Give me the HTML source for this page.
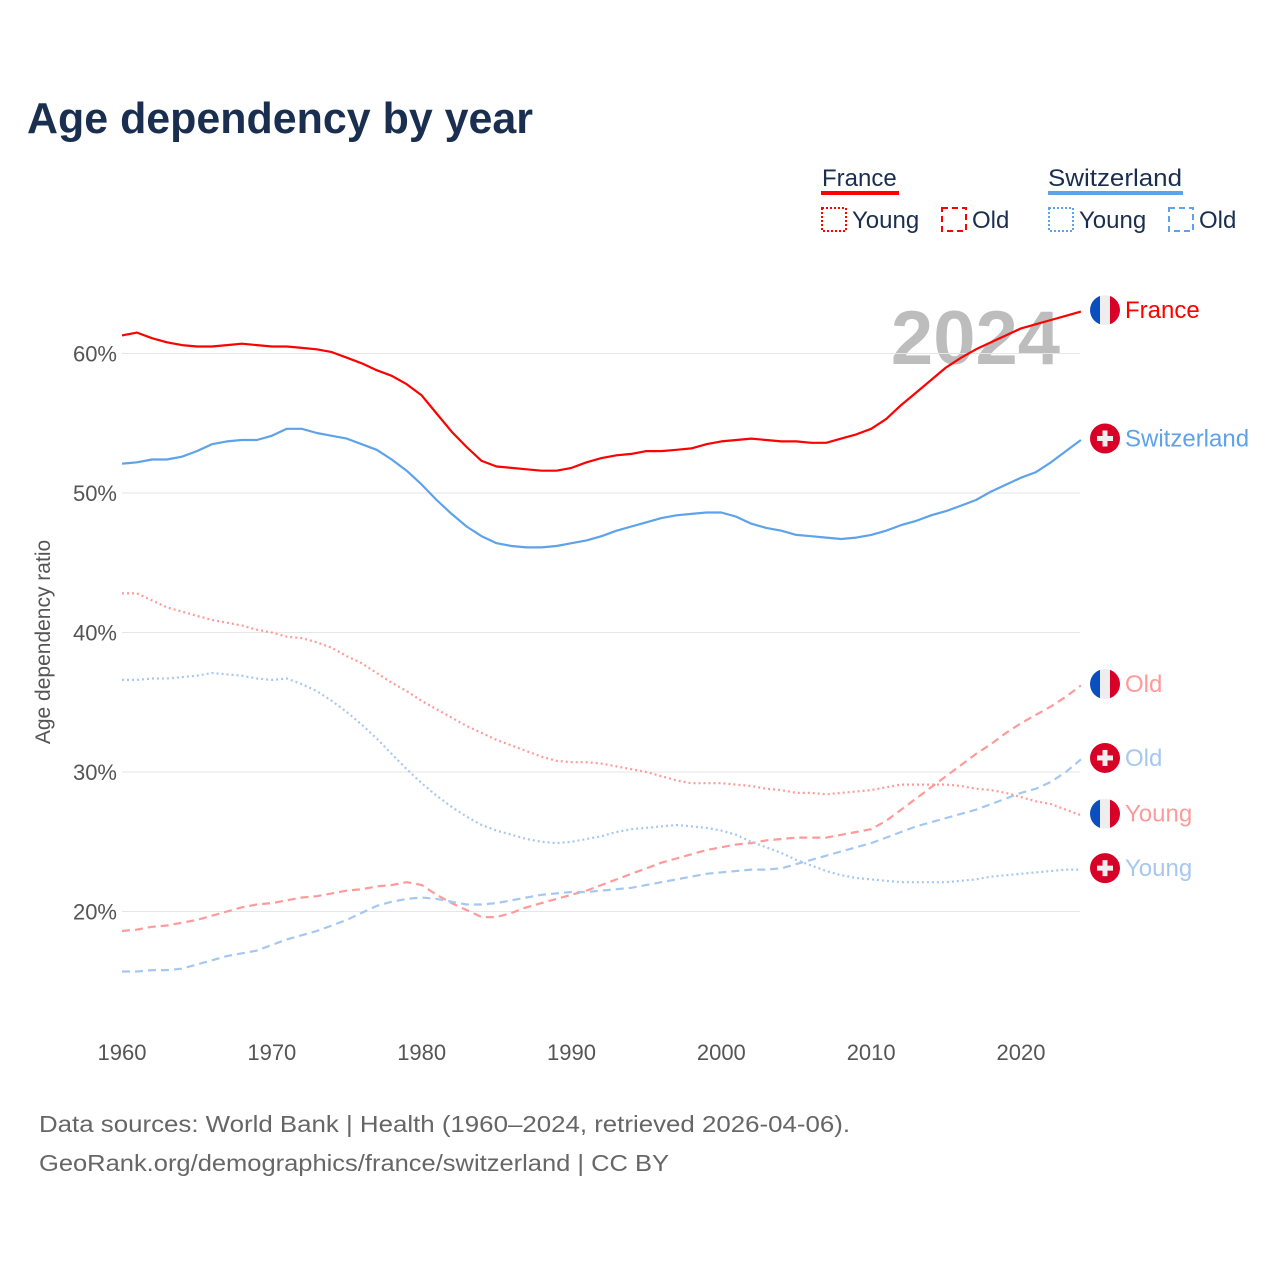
<!DOCTYPE html>
<html><head><meta charset="utf-8">
<style>
body{margin:0;background:#fff;}
svg text{font-family:"Liberation Sans",sans-serif;}
</style></head>
<body>
<svg id="chart" width="1280" height="1280" xmlns="http://www.w3.org/2000/svg">
<rect width="1280" height="1280" fill="#fff"/>
<text x="27" y="133" font-size="44" font-weight="bold" fill="#1a2e50" textLength="506" lengthAdjust="spacingAndGlyphs">Age dependency by year</text>
<g>
 <text x="822" y="186" font-size="24" fill="#1a2e50">France</text>
 <rect x="821" y="191" width="78" height="4" fill="#ff0000"/>
 <rect x="822" y="208" width="24" height="23" fill="none" stroke="#ff0000" stroke-width="2" stroke-dasharray="2 2"/>
 <text x="852" y="228" font-size="24" fill="#1a2e50">Young</text>
 <rect x="942" y="208" width="24" height="23" fill="none" stroke="#ff0000" stroke-width="2" stroke-dasharray="6 4"/>
 <text x="972" y="228" font-size="24" fill="#1a2e50">Old</text>
 <text x="1048" y="186" font-size="24" fill="#1a2e50" textLength="134" lengthAdjust="spacingAndGlyphs">Switzerland</text>
 <rect x="1048" y="191" width="135" height="4" fill="#5ea2ea"/>
 <rect x="1049" y="208" width="24" height="23" fill="none" stroke="#5ea2ea" stroke-width="2" stroke-dasharray="2 2"/>
 <text x="1079" y="228" font-size="24" fill="#1a2e50">Young</text>
 <rect x="1169" y="208" width="24" height="23" fill="none" stroke="#5ea2ea" stroke-width="2" stroke-dasharray="6 4"/>
 <text x="1199" y="228" font-size="24" fill="#1a2e50">Old</text>
</g>
<text x="1060" y="364" font-size="76" font-weight="bold" fill="#bdbdbd" text-anchor="end">2024</text>
<g id="grid"></g>
<g id="lines"></g>
<g id="labels"></g>
<text transform="translate(50,642) rotate(-90)" font-size="21" fill="#555" text-anchor="middle">Age dependency ratio</text>
<text x="39" y="1132" font-size="23" fill="#666" textLength="811" lengthAdjust="spacingAndGlyphs">Data sources: World Bank | Health (1960–2024, retrieved 2026-04-06).</text>
<text x="39" y="1171" font-size="23" fill="#666" textLength="630" lengthAdjust="spacingAndGlyphs">GeoRank.org/demographics/france/switzerland | CC BY</text>
</svg>
<script>
const years=[];for(let y=1960;y<=2024;y++)years.push(y);
const xTicks=[1960,1970,1980,1990,2000,2010,2020];
const yTicks=[20,30,40,50,60];
const franceTotal=[61.3,61.5,61.1,60.8,60.6,60.5,60.5,60.6,60.7,60.6,60.5,60.5,60.4,60.3,60.1,59.7,59.3,58.8,58.4,57.8,57.0,55.7,54.4,53.3,52.3,51.9,51.8,51.7,51.6,51.6,51.8,52.2,52.5,52.7,52.8,53.0,53.0,53.1,53.2,53.5,53.7,53.8,53.9,53.8,53.7,53.7,53.6,53.6,53.9,54.2,54.6,55.3,56.3,57.2,58.1,59.0,59.7,60.3,60.8,61.3,61.8,62.1,62.4,62.7,63.0];
const swissTotal=[52.1,52.2,52.4,52.4,52.6,53.0,53.5,53.7,53.8,53.8,54.1,54.6,54.6,54.3,54.1,53.9,53.5,53.1,52.4,51.6,50.6,49.5,48.5,47.6,46.9,46.4,46.2,46.1,46.1,46.2,46.4,46.6,46.9,47.3,47.6,47.9,48.2,48.4,48.5,48.6,48.6,48.3,47.8,47.5,47.3,47.0,46.9,46.8,46.7,46.8,47.0,47.3,47.7,48.0,48.4,48.7,49.1,49.5,50.1,50.6,51.1,51.5,52.2,53.0,53.8];
const franceYoung=[42.8,42.8,42.3,41.8,41.5,41.2,40.9,40.7,40.5,40.2,40.0,39.7,39.6,39.3,38.9,38.3,37.8,37.1,36.4,35.8,35.1,34.5,33.9,33.3,32.8,32.3,31.9,31.5,31.1,30.8,30.7,30.7,30.6,30.4,30.2,30.0,29.7,29.4,29.2,29.2,29.2,29.1,29.0,28.8,28.7,28.5,28.5,28.4,28.5,28.6,28.7,28.9,29.1,29.1,29.1,29.1,29.0,28.8,28.7,28.5,28.2,27.9,27.7,27.3,26.9];
const franceOld=[18.6,18.7,18.9,19.0,19.2,19.4,19.7,20.0,20.3,20.5,20.6,20.8,21.0,21.1,21.3,21.5,21.6,21.8,21.9,22.1,21.9,21.2,20.6,20.1,19.6,19.6,19.9,20.3,20.6,20.9,21.2,21.5,21.9,22.3,22.7,23.1,23.5,23.8,24.1,24.4,24.6,24.8,24.9,25.1,25.2,25.3,25.3,25.3,25.5,25.7,25.9,26.5,27.3,28.1,28.9,29.7,30.5,31.3,32.0,32.8,33.5,34.1,34.7,35.4,36.2];
const swissYoung=[36.6,36.6,36.7,36.7,36.8,36.9,37.1,37.0,36.9,36.7,36.6,36.7,36.3,35.8,35.1,34.3,33.4,32.4,31.3,30.2,29.2,28.3,27.5,26.8,26.2,25.8,25.5,25.2,25.0,24.9,25.0,25.2,25.4,25.7,25.9,26.0,26.1,26.2,26.1,26.0,25.8,25.5,25.0,24.6,24.2,23.7,23.3,22.9,22.6,22.4,22.3,22.2,22.1,22.1,22.1,22.1,22.2,22.3,22.5,22.6,22.7,22.8,22.9,23.0,23.0];
const swissOld=[15.7,15.7,15.8,15.8,15.9,16.2,16.5,16.8,17.0,17.2,17.6,18.0,18.3,18.6,19.0,19.4,19.9,20.4,20.7,20.9,21.0,20.9,20.7,20.5,20.5,20.6,20.8,21.0,21.2,21.3,21.4,21.4,21.5,21.6,21.7,21.9,22.1,22.3,22.5,22.7,22.8,22.9,23.0,23.0,23.1,23.4,23.7,24.0,24.3,24.6,24.9,25.3,25.7,26.1,26.4,26.7,27.0,27.3,27.7,28.1,28.5,28.8,29.3,30.0,30.9];
const X=y=>122+(y-1960)*(899/60);
const Y=v=>493-(v-50)*13.95;
const NS="http://www.w3.org/2000/svg";
function mk(tag,attrs,parent){const e=document.createElementNS(NS,tag);for(const k in attrs)e.setAttribute(k,attrs[k]);parent.appendChild(e);return e;}
const grid=document.getElementById('grid');
yTicks.forEach(t=>{
  const l=mk('line',{x1:122,x2:1080,y1:Y(t),y2:Y(t),stroke:'#e6e6e6','stroke-width':1},grid);
  
  
  const tx=mk('text',{x:117,y:Y(t)+8,'font-size':22,fill:'#555','text-anchor':'end'},grid);
  tx.textContent=t+'%';
  
  
});
xTicks.forEach(t=>{
  const tx=mk('text',{x:X(t),y:1060,'font-size':22,fill:'#555','text-anchor':'middle'},grid);
  tx.textContent=t;
  
  
});
const series=[
 {d:franceYoung,c:'#ff9a9a',dash:'2 3',name:'france-young',label:'Young',flag:'fr'},
 {d:franceOld,c:'#ff9a9a',dash:'8 5',name:'france-old',label:'Old',flag:'fr'},
 {d:swissYoung,c:'#a6c8f0',dash:'2 3',name:'switzerland-young',label:'Young',flag:'ch'},
 {d:swissOld,c:'#a6c8f0',dash:'8 5',name:'switzerland-old',label:'Old',flag:'ch'},
 {d:swissTotal,c:'#5ea2ea',dash:'',name:'switzerland-total',label:'Switzerland',flag:'ch'},
 {d:franceTotal,c:'#ff0000',dash:'',name:'france-total',label:'France',flag:'fr'}
];
const lines=document.getElementById('lines'),labels=document.getElementById('labels');
series.forEach(s=>{
  const pts=s.d.map((v,i)=>X(years[i]).toFixed(1)+','+Y(v).toFixed(1)).join(' ');
  const p=mk('polyline',{points:pts,fill:'none',stroke:s.c,'stroke-width':2.2,'stroke-dasharray':s.dash,'stroke-linejoin':'round'},lines);
  
  
  const ly=Y(s.d[s.d.length-1])-1.5;
  const g=mk('g',{},labels);
  
  
  const cx=1105,r=15;
  if(s.flag==='fr'){
    const cid='c'+s.name;
    const cp=mk('clipPath',{id:cid},g);mk('circle',{cx:cx,cy:ly,r:r},cp);
    mk('rect',{x:cx-r,y:ly-r,width:10,height:2*r,fill:'#0a4fc0','clip-path':'url(#'+cid+')'},g);
    mk('rect',{x:cx-5,y:ly-r,width:10,height:2*r,fill:'#eeeeee','clip-path':'url(#'+cid+')'},g);
    mk('rect',{x:cx+5,y:ly-r,width:10,height:2*r,fill:'#d80027','clip-path':'url(#'+cid+')'},g);
  } else {
    mk('circle',{cx:cx,cy:ly,r:r,fill:'#d80027'},g);
    mk('rect',{x:cx-2.5,y:ly-8,width:5,height:16,fill:'#eee'},g);
    mk('rect',{x:cx-8,y:ly-2.5,width:16,height:5,fill:'#eee'},g);
  }
  const t=mk('text',{x:1125,y:ly+8,'font-size':24,fill:s.c},g);
  t.textContent=s.label;
});
</script>
</body></html>
